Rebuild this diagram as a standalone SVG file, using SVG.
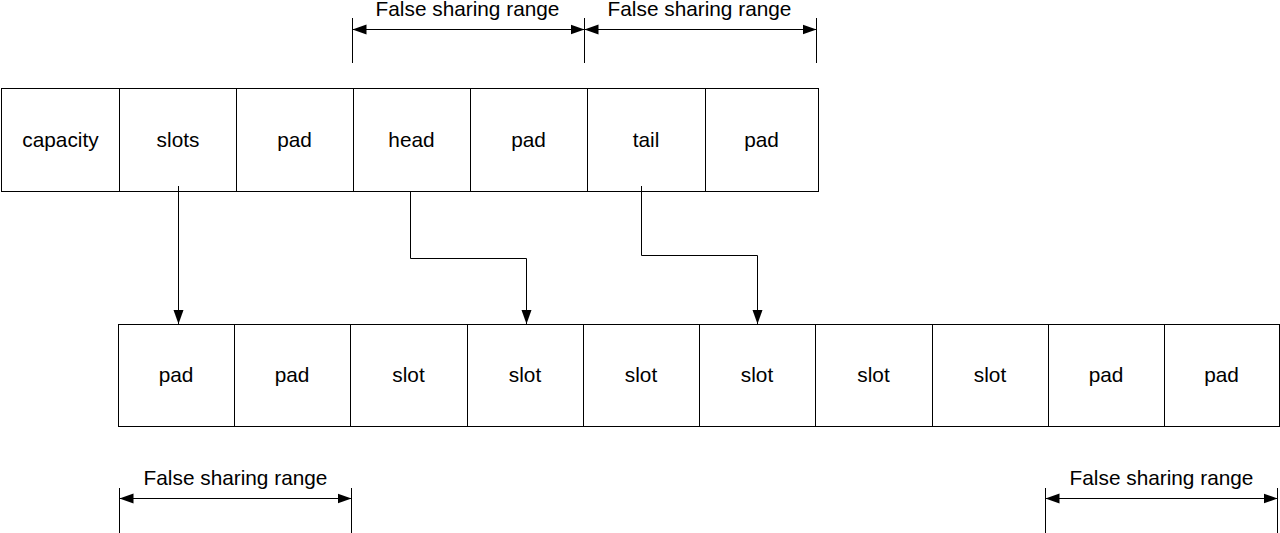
<svg xmlns="http://www.w3.org/2000/svg" width="1280" height="533" viewBox="0 0 1280 533">
<style>
text{font-family:"Liberation Sans",Arial,sans-serif;font-size:20.8px;fill:#000;text-anchor:middle}
.cell{fill:#fff;stroke:#000;stroke-width:1}
.ln{fill:none;stroke:#000;stroke-width:1}
</style>
<defs>
<marker id="ah" markerUnits="userSpaceOnUse" markerWidth="15" markerHeight="11" refX="14" refY="5.5" orient="auto-start-reverse" viewBox="0 0 15 11">
<path d="M0,0.5 L14,5.5 L0,10.5 z" fill="#000"/>
</marker>
</defs>
<rect width="1280" height="533" fill="#fff"/>
<g id="top-row">
<g id="n-capacity"><rect class="cell" x="1.5" y="88.5" width="118" height="103"/><text x="60.5" y="147">capacity</text></g>
<g id="n-slots"><rect class="cell" x="119.5" y="88.5" width="117" height="103"/><text x="178" y="147">slots</text></g>
<g id="n-pad1"><rect class="cell" x="236.5" y="88.5" width="117" height="103"/><text x="294.5" y="147">pad</text></g>
<g id="n-head"><rect class="cell" x="353.5" y="88.5" width="117" height="103"/><text x="411.5" y="147">head</text></g>
<g id="n-pad2"><rect class="cell" x="470.5" y="88.5" width="117" height="103"/><text x="528.5" y="147">pad</text></g>
<g id="n-tail"><rect class="cell" x="587.5" y="88.5" width="118" height="103"/><text x="646" y="147">tail</text></g>
<g id="n-pad3"><rect class="cell" x="705.5" y="88.5" width="113" height="103"/><text x="761.5" y="147">pad</text></g>
</g>
<g id="bottom-row">
<g id="b-pad1"><rect class="cell" x="118.5" y="324.5" width="116" height="102"/><text x="176" y="382">pad</text></g>
<g id="b-pad2"><rect class="cell" x="234.5" y="324.5" width="116" height="102"/><text x="292" y="382">pad</text></g>
<g id="b-slot1"><rect class="cell" x="350.5" y="324.5" width="117" height="102"/><text x="408.5" y="382">slot</text></g>
<g id="b-slot2"><rect class="cell" x="467.5" y="324.5" width="116" height="102"/><text x="525" y="382">slot</text></g>
<g id="b-slot3"><rect class="cell" x="583.5" y="324.5" width="116" height="102"/><text x="641" y="382">slot</text></g>
<g id="b-slot4"><rect class="cell" x="699.5" y="324.5" width="116" height="102"/><text x="757" y="382">slot</text></g>
<g id="b-slot5"><rect class="cell" x="815.5" y="324.5" width="117" height="102"/><text x="873.5" y="382">slot</text></g>
<g id="b-slot6"><rect class="cell" x="932.5" y="324.5" width="116" height="102"/><text x="990" y="382">slot</text></g>
<g id="b-pad3"><rect class="cell" x="1048.5" y="324.5" width="116" height="102"/><text x="1106" y="382">pad</text></g>
<g id="b-pad4"><rect class="cell" x="1164.5" y="324.5" width="115" height="102"/><text x="1221.5" y="382">pad</text></g>
</g>
<g id="connectors">
<path class="ln" d="M178.5,186 V324" marker-end="url(#ah)"/>
<path class="ln" d="M410.5,191 V258.5 H526.5 V324" marker-end="url(#ah)"/>
<path class="ln" d="M641.5,186 V255.5 H757.5 V324" marker-end="url(#ah)"/>
</g>
<g id="dimensions">
<g id="dim-top1">
<path class="ln" d="M352.5,18 V63"/>
<path class="ln" d="M352.5,29.5 H584.5" marker-start="url(#ah)" marker-end="url(#ah)"/>
<text x="467.5" y="16">False sharing range</text>
</g>
<g id="dim-top2">
<path class="ln" d="M584.5,18 V63 M816.5,18 V63"/>
<path class="ln" d="M584.5,29.5 H816.5" marker-start="url(#ah)" marker-end="url(#ah)"/>
<text x="699.5" y="16">False sharing range</text>
</g>
<g id="dim-bot1">
<path class="ln" d="M119.5,488 V533 M351.5,488 V533"/>
<path class="ln" d="M119.5,498.5 H351.5" marker-start="url(#ah)" marker-end="url(#ah)"/>
<text x="235.5" y="485">False sharing range</text>
</g>
<g id="dim-bot2">
<path class="ln" d="M1045.5,488 V533 M1277.5,488 V533"/>
<path class="ln" d="M1045.5,498.5 H1277.5" marker-start="url(#ah)" marker-end="url(#ah)"/>
<text x="1161.5" y="485">False sharing range</text>
</g>
</g>
</svg>
